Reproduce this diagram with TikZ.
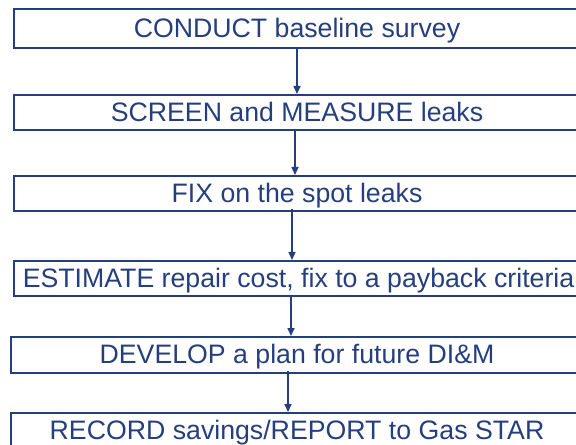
\documentclass[tikz,border=0pt]{standalone}
\usepackage{fontspec}
\setmainfont{Liberation Sans}
\usetikzlibrary{arrows.meta}
\definecolor{navy}{HTML}{253F7E}
\tikzset{
  stepbox/.style={draw=navy, line width=2bp, rectangle, minimum width=566bp, inner sep=0pt,
    text=navy, font=\fontsize{26.8}{31}\selectfont, text height=17.5bp, text depth=0pt},
  flow/.style={draw=navy, line width=1.6bp, -{Triangle[length=8bp,width=7bp]}}
}
\begin{document}
\begin{tikzpicture}[x=1bp,y=-1bp]
\useasboundingbox (0,0) rectangle (576,445);
\clip (0,0) rectangle (576,445);
\node[stepbox, minimum height=39bp] (a) at (297,28.5) {CONDUCT baseline survey};
\node[stepbox, minimum height=35bp] (b) at (297,112.5) {SCREEN and MEASURE leaks};
\node[stepbox, minimum height=35bp] (c) at (297,193.5) {FIX on the spot leaks};
\node[stepbox, minimum height=35bp] (d) at (297,278.5) {\hspace*{3bp}ESTIMATE repair cost, fix to a payback criteria};
\node[stepbox, minimum height=36bp, minimum width=572bp] (e) at (297,355) {DEVELOP a plan for future DI\&M};
\node[stepbox, minimum height=36bp, minimum width=572bp] (f) at (297,431) {RECORD savings/REPORT to Gas STAR};
\draw[flow] (a.south) -- (b.north);
\draw[flow] ([xshift=-2bp]b.south) -- ([xshift=-2bp]c.north);
\draw[flow] ([xshift=-5bp,yshift=3bp]c.south) -- ([xshift=-5bp]d.north);
\draw[flow] ([xshift=-6bp]d.south) -- ([xshift=-6bp]e.north);
\draw[flow] ([xshift=-9bp,yshift=3bp]e.south) -- ([xshift=-9bp]f.north);
\end{tikzpicture}
\end{document}
